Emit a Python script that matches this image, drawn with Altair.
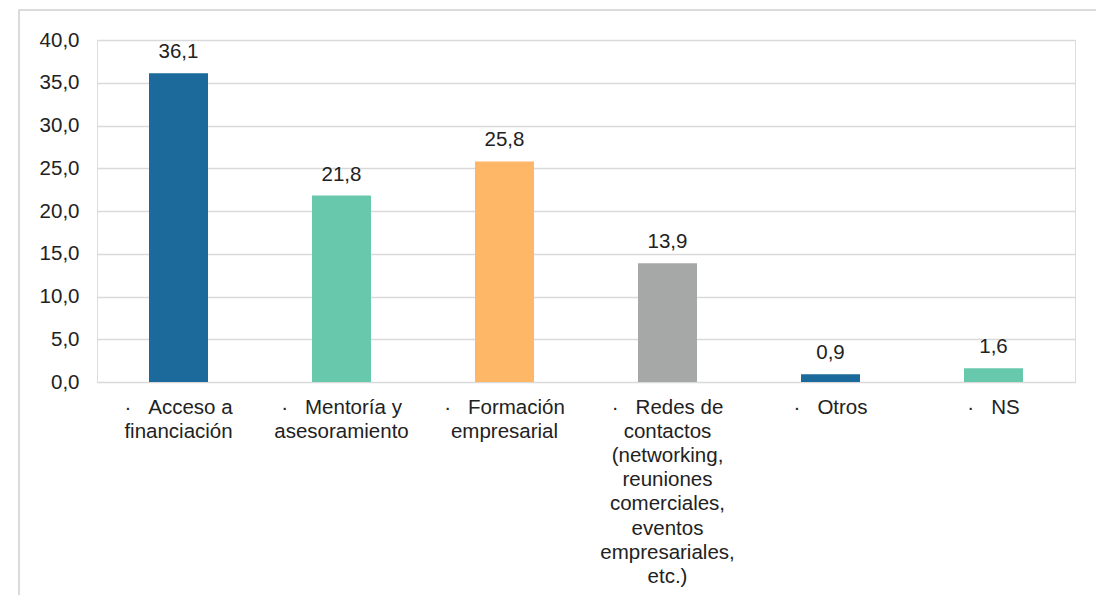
import altair as alt
import pandas as pd

NB = "\u00a0"
categories = [
    "·" + NB*3 + "Acceso a\nfinanciación",
    "·" + NB*3 + "Mentoría y\nasesoramiento",
    "·" + NB*3 + "Formación\nempresarial",
    "·" + NB*3 + "Redes de\ncontactos\n(networking,\nreuniones\ncomerciales,\neventos\nempresariales,\netc.)",
    "·" + NB*3 + "Otros",
    "·" + NB*3 + "NS",
]
values = [36.1, 21.8, 25.8, 13.9, 0.9, 1.6]
colors = ["#1b6a9b", "#67c8ab", "#fdb767", "#a6a8a8", "#1b6a9b", "#67c8ab"]
y_ticks = [0, 5, 10, 15, 20, 25, 30, 35, 40]

df = pd.DataFrame({"cat": categories, "val": values, "color": colors, "order": list(range(len(values)))})

FONT = "Liberation Sans"
FS = 20.5

x_enc = alt.X("cat:N", sort=categories, title=None,
              scale=alt.Scale(paddingInner=0, paddingOuter=0),
              axis=alt.Axis(labelAngle=0, labelExpr="split(datum.label, '\\n')",
                            labelFontSize=FS, labelColor="#222", labelFont=FONT,
                            labelLineHeight=24.2, labelPadding=15, labelLimit=0,
                            ticks=False, domain=False, labelBaseline="top"))

base = alt.Chart(df)

border = base.mark_rect(fill=None, stroke="#d0d0d0", strokeWidth=1.5).encode(
    x=alt.value(-78), x2=alt.value(1006), y=alt.value(-30), y2=alt.value(620)
).transform_filter("datum.order == 0")

bars = base.mark_bar(size=59).encode(
    x=x_enc,
    y=alt.Y("val:Q", title=None,
            scale=alt.Scale(domain=[0, 40], nice=False),
            axis=alt.Axis(values=y_ticks, labelExpr="replace(format(datum.value, '.1f'), '.', ',')",
                          labelFontSize=FS, labelColor="#222", labelFont=FONT,
                          labelPadding=18, ticks=False, domain=False,
                          grid=True, gridColor="#d9d9d9", gridWidth=1.5)),
    color=alt.Color("color:N", scale=None, legend=None),
)

texts = base.transform_calculate(
    lab="replace(format(datum.val, '.1f'), '.', ',')"
).mark_text(baseline="bottom", dy=-11, fontSize=FS, font=FONT, color="#222").encode(
    x=alt.X("cat:N", sort=categories),
    y="val:Q",
    text="lab:N",
)

chart = alt.layer(border, bars, texts).properties(
    width=978, height=342,
    autosize=alt.AutoSizeParams(type="none"),
    padding={"left": 89, "top": 32, "right": 21, "bottom": 213},
).configure_view(stroke=None).configure(background="white")

chart.save("out.html", embed_options={"renderer": "svg", "actions": False})
